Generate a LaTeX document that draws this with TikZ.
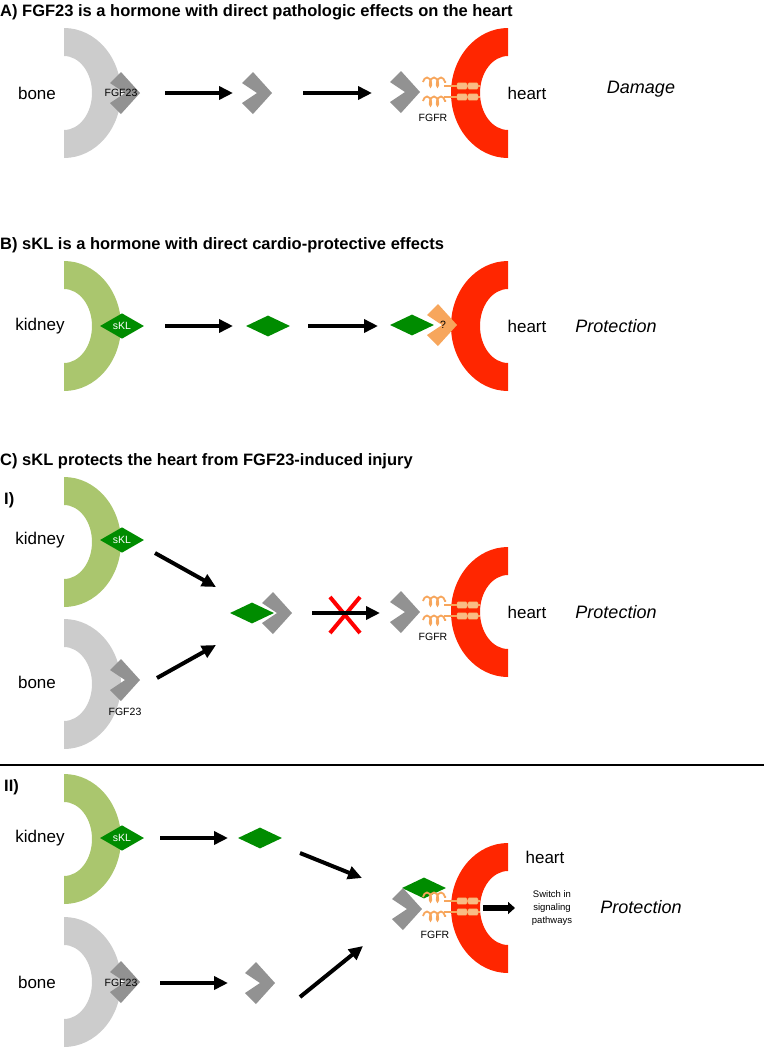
\documentclass[tikz,border=0pt]{standalone}
\usepackage{fontspec}
\setmainfont{Liberation Sans}
\usetikzlibrary{arrows.meta, shapes.geometric, decorations.pathmorphing}

\definecolor{bonegray}{RGB}{204,204,204}
\definecolor{chevgray}{RGB}{146,146,146}
\definecolor{kidneygreen}{RGB}{170,198,110}
\definecolor{sklgreen}{RGB}{0,140,0}
\definecolor{heartred}{RGB}{255,38,0}
\definecolor{recep}{RGB}{247,166,92}
\definecolor{xred}{RGB}{255,0,0}

\tikzset{
  pics/halfring/.style={code={
    \begin{scope}
      \clip (0,-70) rectangle (70,70);
      \fill[#1, even odd rule] (0,0) ellipse [x radius=57, y radius=65]
                               (0,0) ellipse [x radius=28, y radius=37];
    \end{scope}}},
  pics/chevron/.style={code={
    \fill[#1] (0,0) -- (-19,-21) -- (-30,-10) -- (-15,0) -- (-30,10) -- (-19,21) -- cycle;}},
  pics/fgfr/.style={code={
    \foreach \r/\c in {-5.5/-9.5, 5.5/9.5} {
      \draw[recep, line width=1.6pt] (21,\r) -- (57,\r);
      \draw[recep, line width=1.8pt, decorate, decoration={coil, amplitude=4.5pt, segment length=7pt}] (0,\c) -- (23,\c);
      \filldraw[fill=recep!75, draw=recep, rounded corners=1pt] (34,\r-3.2) rectangle (44,\r+3.2) (45,\r-3.2) rectangle (55,\r+3.2);
    }}}
}

\begin{document}
\begin{tikzpicture}[x=1pt, y=-1pt,
  heading/.style={anchor=west, inner sep=0pt, font=\fontsize{16.5}{19}\selectfont\bfseries},
  organlabel/.style={font=\fontsize{17}{20}\selectfont},
  outcome/.style={font=\fontsize{18}{21}\selectfont\itshape},
  smalltext/.style={inner sep=0pt, font=\fontsize{10.5}{12}\selectfont},
  skl/.style={diamond, fill=sklgreen, minimum width=44pt, minimum height=21pt, inner sep=0pt, text=white, font=\fontsize{10.5}{12}\selectfont},
  flow/.style={line width=4pt, -{Triangle[length=14pt,width=13pt]}}]
  \useasboundingbox (0,0) rectangle (764,1050);

  % A
  \node[heading] (tA) at (0,12) {A) FGF23 is a hormone with direct pathologic effects on the heart};
  \pic at (64,93) {halfring=bonegray};
  \pic at (508,93) [xscale=-1] {halfring=heartred};
  \pic at (140,93) {chevron=chevgray};
  \node[smalltext] (fgfA) at (121,93) {FGF23};
  \pic at (272,93) {chevron=chevgray};
  \pic at (420,92) {chevron=chevgray};
  \pic at (423,91.5) {fgfr};
  \node[smalltext] (fgfrA) at (433,118) {FGFR};
  \node[organlabel] (boneA) at (37,93) {bone};
  \node[organlabel] (heartA) at (527,93) {heart};
  \node[outcome] (damA) at (641,89) {Damage};
  \coordinate (a1) at (165,93);
  \coordinate (a2) at (233,93);
  \coordinate (a3) at (303,93);
  \coordinate (a4) at (372,93);
  \draw[flow] (a1) -- (a2);
  \draw[flow] (a3) -- (a4);

  % B
  \node[heading] (tB) at (0,245) {B) sKL is a hormone with direct cardio-protective effects};
  \pic at (64,326) {halfring=kidneygreen};
  \pic at (508,326) [xscale=-1] {halfring=heartred};
  \node[skl] (sklB) at (122,326) {sKL};
  \node[skl] (freeB) at (268,326) {};
  \pic at (457,325) {chevron=recep};
  \node[smalltext] (qB) at (443,325) {?};
  \node[skl] (boundB) at (412,325) {};
  \node[organlabel] (kidB) at (40,326) {kidney};
  \node[organlabel] (heartB) at (527,326) {heart};
  \node[outcome] (protB) at (616,326) {Protection};
  \coordinate (b1) at (165,326);
  \coordinate (b2) at (233,326);
  \coordinate (b3) at (308,326);
  \coordinate (b4) at (378,326);
  \draw[flow] (b1) -- (b2);
  \draw[flow] (b3) -- (b4);

  % C I
  \node[heading] (tC) at (0,461) {C) sKL protects the heart from FGF23-induced injury};
  \node[heading] (tI) at (4,500) {I)};
  \pic at (64,542) {halfring=kidneygreen};
  \pic at (64,684) {halfring=bonegray};
  \pic at (508,612) [xscale=-1] {halfring=heartred};
  \node[skl] (sklC) at (122,540) {sKL};
  \pic at (140,680) {chevron=chevgray};
  \node[smalltext] (fgfC) at (125,712) {FGF23};
  \pic at (292,613) {chevron=chevgray};
  \node[skl] (cplxC) at (252,613) {};
  \pic at (420,612) {chevron=chevgray};
  \pic at (423,610.5) {fgfr};
  \node[smalltext] (fgfrC) at (433,637) {FGFR};
  \node[organlabel] (kidC) at (40,540) {kidney};
  \node[organlabel] (boneC) at (37,682) {bone};
  \node[organlabel] (heartC) at (527,612) {heart};
  \node[outcome] (protC) at (616,612) {Protection};
  \coordinate (c1) at (155,553);
  \coordinate (c2) at (216,587);
  \coordinate (c3) at (157,678);
  \coordinate (c4) at (216,645);
  \coordinate (c5) at (312,613);
  \coordinate (c6) at (380,613);
  \draw[flow] (c1) -- (c2);
  \draw[flow] (c3) -- (c4);
  \draw[xred, line width=4pt] (330,597) -- (360,633) (360,597) -- (330,633);
  \draw[flow] (c5) -- (c6);

  \coordinate (sepL) at (0,765);
  \coordinate (sepR) at (764,765);
  \draw[line width=1.5pt] (sepL) -- (sepR);

  % C II
  \node[heading] (tII) at (4,787) {II)};
  \pic at (64,839) {halfring=kidneygreen};
  \pic at (64,982) {halfring=bonegray};
  \pic at (508,908) [xscale=-1] {halfring=heartred};
  \node[skl] (sklD) at (122,838) {sKL};
  \pic at (140,982) {chevron=chevgray};
  \node[smalltext] (fgfD) at (121,983) {FGF23};
  \node[skl] (freeD) at (260,838) {};
  \pic at (275,983) {chevron=chevgray};
  \node[skl] (boundD) at (424,888) {};
  \pic at (422,909) {chevron=chevgray};
  \pic at (423,906.5) {fgfr};
  \node[smalltext] (fgfrD) at (435,935) {FGFR};
  \node[organlabel] (kidD) at (40,838) {kidney};
  \node[organlabel] (boneD) at (37,982) {bone};
  \node[organlabel] (heartD) at (545,857) {heart};
  \node[align=center, inner sep=0pt, font=\fontsize{9.5}{13}\selectfont] (swD) at (552,908) {Switch in\\signaling\\pathways};
  \node[outcome] (protD) at (641,907) {Protection};
  \coordinate (d1) at (160,838);
  \coordinate (d2) at (228,838);
  \coordinate (d3) at (160,983);
  \coordinate (d4) at (228,983);
  \coordinate (d5) at (300,853);
  \coordinate (d6) at (362,878);
  \coordinate (d7) at (300,997);
  \coordinate (d8) at (363,946);
  \coordinate (d9) at (483,908);
  \coordinate (d10) at (515,908);
  \draw[flow] (d1) -- (d2);
  \draw[flow] (d3) -- (d4);
  \draw[flow] (d5) -- (d6);
  \draw[flow] (d7) -- (d8);
  \draw[line width=6pt, -{Triangle[length=7pt,width=12pt]}] (d9) -- (d10);
\end{tikzpicture}
\end{document}
